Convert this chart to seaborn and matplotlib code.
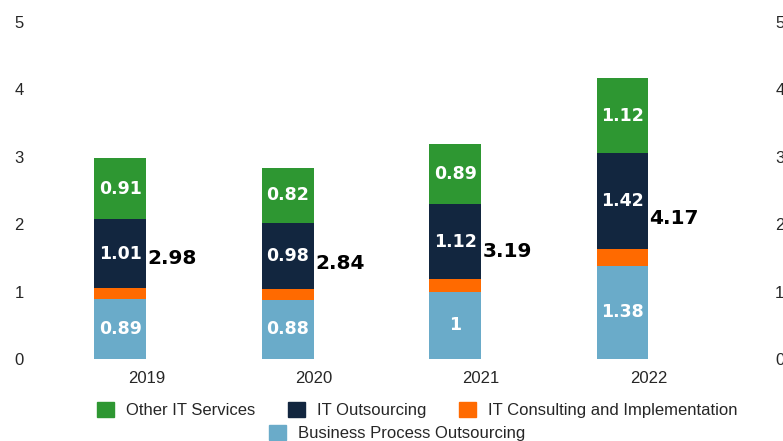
import pandas as pd
import numpy as np
import matplotlib
matplotlib.use('Agg')
import matplotlib.pyplot as plt
from matplotlib.patches import Patch
import seaborn as sns

years = ['2019', '2020', '2021', '2022']
bpo = [0.89, 0.88, 1.00, 1.38]
it_consulting = [0.17, 0.16, 0.18, 0.25]
it_outsourcing = [1.01, 0.98, 1.12, 1.42]
other_it = [0.91, 0.82, 0.89, 1.12]
totals = [2.98, 2.84, 3.19, 4.17]

series_names = ['Business Process Outsourcing', 'IT Consulting and Implementation',
                'IT Outsourcing', 'Other IT Services']
colors = {'Business Process Outsourcing': '#6aabc9',
          'IT Consulting and Implementation': '#ff6a00',
          'IT Outsourcing': '#12263f',
          'Other IT Services': '#2e9732'}

values = np.array([bpo, it_consulting, it_outsourcing, other_it])
cum = values.cumsum(axis=0)

sns.set_theme(style='white')
plt.rcParams['font.family'] = ['Liberation Sans', 'DejaVu Sans']

fig = plt.figure(figsize=(7.83, 4.41), dpi=100)
ax = fig.add_axes([0.08, 0.186, 0.855, 0.764])

# draw stacks as overlaid cumulative bars, tallest first
# a blank "pad" hue level keeps the right half of each slot free for the total label
for i in range(len(series_names) - 1, -1, -1):
    df = pd.DataFrame({
        'year': years * 2,
        'kind': ['stack'] * 4 + ['pad'] * 4,
        'value': list(cum[i]) + [0] * 4,
    })
    sns.barplot(data=df, x='year', y='value', hue='kind', hue_order=['stack', 'pad'],
                palette={'stack': colors[series_names[i]], 'pad': (0, 0, 0, 0)},
                width=0.62, gap=0, legend=False, ax=ax, linewidth=0, saturation=1)

off = 0.155
for j in range(len(years)):
    for i, name in enumerate(series_names):
        if name == 'IT Consulting and Implementation':
            continue
        mid = cum[i][j] - values[i][j] / 2
        lbl = f'{values[i][j]:g}'
        ax.text(j - off, mid, lbl, ha='center', va='center', color='white',
                fontsize=12.5, fontweight='bold', family='DejaVu Sans')
    ax.text(j + off, totals[j] / 2, f'{totals[j]:.2f}', ha='center', va='center',
            color='black', fontsize=14.5, fontweight='bold', family='DejaVu Sans')

ax.set_ylim(0, 5)
ax.set_xlim(-0.5, 3.5)
ax.set_yticks([0, 1, 2, 3, 4, 5])
ax.set_xlabel('')
ax.set_ylabel('')
ax.tick_params(axis='y', length=0, pad=28, labelsize=12)
ax.tick_params(axis='x', length=0, pad=9, labelsize=12)
sns.despine(ax=ax, left=True, bottom=True)

ax2 = ax.twinx()
ax2.set_ylim(0, 5)
ax2.set_yticks([0, 1, 2, 3, 4, 5])
ax2.tick_params(axis='y', length=0, pad=31, labelsize=12)
for s in ax2.spines.values():
    s.set_visible(False)
ax2.grid(False)
ax.grid(False)

order1 = ['Other IT Services', 'IT Outsourcing', 'IT Consulting and Implementation']
h1 = [Patch(color=colors[n], label=n) for n in order1]
h2 = [Patch(color=colors['Business Process Outsourcing'], label='Business Process Outsourcing')]
leg_kw = dict(frameon=False, fontsize=12, handlelength=1.0, handleheight=1.0,
              handletextpad=0.7, columnspacing=2.0, borderaxespad=0, borderpad=0)
fig.legend(handles=h1, ncol=3, loc='center', bbox_to_anchor=(0.533, 0.07), **leg_kw)
fig.legend(handles=h2, ncol=1, loc='center', bbox_to_anchor=(0.507, 0.018), **leg_kw)

fig.savefig('out.png', dpi=100)
